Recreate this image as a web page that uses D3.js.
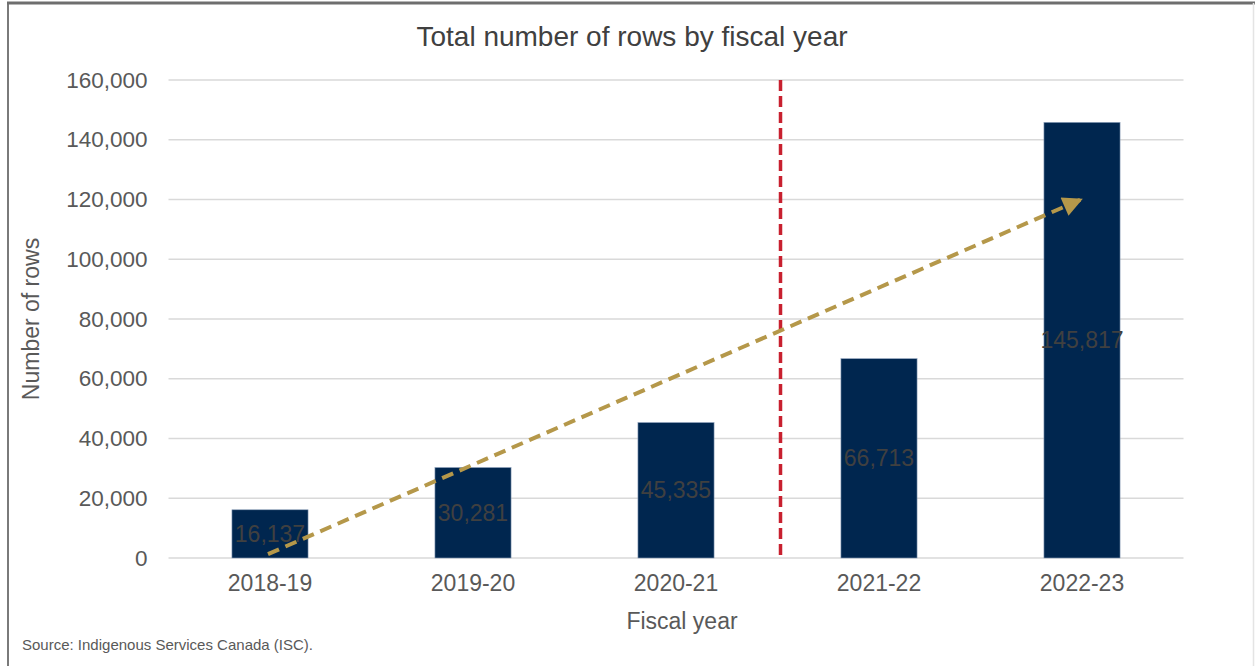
<!DOCTYPE html>
<html>
<head>
<meta charset="utf-8">
<script src="https://cdn.jsdelivr.net/npm/d3@7"></script>
<style>
  html, body { margin: 0; padding: 0; background: #fff; }
  svg { display: block; font-family: "Liberation Sans", Arial, sans-serif; }
</style>
</head>
<body>
<svg id="chart" width="1255" height="666"></svg>
<script>
// ---- data ----
const categories = ["2018-19", "2019-20", "2020-21", "2021-22", "2022-23"];
const values = [16137, 30281, 45335, 66713, 145817];
const valueLabels = ["16,137", "30,281", "45,335", "66,713", "145,817"];
const yTicks = [0, 20000, 40000, 60000, 80000, 100000, 120000, 140000, 160000];
const trendStart = { category: "2018-19", value: 1300 };
const trendEnd = { category: "2022-23", value: 120000 };
const dividerAfter = "2020-21";
const titleText = "Total number of rows by fiscal year";
const xTitle = "Fiscal year";
const yTitle = "Number of rows";
const sourceText = "Source: Indigenous Services Canada (ISC).";

// ---- layout ----
const svg = d3.select("#chart");
const plot = { left: 168.5, right: 1183.5, top: 80, bottom: 558 };

const x = d3.scaleBand().domain(categories).range([plot.left, plot.right])
  .paddingInner(0.625).paddingOuter(0.3125);
const y = d3.scaleLinear().domain([0, 160000]).range([plot.bottom, plot.top]);
const fmt = d3.format(",");

// frame
svg.append("line").attr("x1", 8).attr("x2", 8).attr("y1", 2).attr("y2", 666)
  .attr("stroke", "#7a7a7a").attr("stroke-width", 2);
svg.append("line").attr("x1", 7).attr("x2", 1255).attr("y1", 3).attr("y2", 3)
  .attr("stroke", "#6e6e6e").attr("stroke-width", 3);
svg.append("line").attr("x1", 1253.5).attr("x2", 1253.5).attr("y1", 3).attr("y2", 666)
  .attr("stroke", "#e4e4e4").attr("stroke-width", 1.5);

// title
svg.append("text").attr("x", 632).attr("y", 46).attr("text-anchor", "middle")
  .attr("font-size", 28).attr("fill", "#404040").text(titleText);

// gridlines + y axis
const yAxis = d3.axisLeft(y).tickValues(yTicks).tickFormat(fmt).tickSize(0).tickPadding(21);
const yg = svg.append("g").attr("transform", `translate(${plot.left},0)`).call(yAxis);
yg.select(".domain").remove();
yg.selectAll("text").attr("font-size", 22.5).attr("fill", "#595959")
  .attr("font-family", "Liberation Sans, Arial, sans-serif");

svg.append("g").selectAll("line").data(yTicks).join("line")
  .attr("x1", plot.left).attr("x2", plot.right)
  .attr("y1", d => y(d)).attr("y2", d => y(d))
  .attr("stroke", "#d9d9d9").attr("stroke-width", 1.5);

// bars
svg.append("g").selectAll("rect").data(categories).join("rect")
  .attr("x", d => x(d)).attr("width", x.bandwidth())
  .attr("y", (d, i) => y(values[i])).attr("height", (d, i) => y(0) - y(values[i]))
  .attr("fill", "#00264f").attr("stroke", "#8da0bb").attr("stroke-width", 0.6);

// x axis
const xAxis = d3.axisBottom(x).tickSize(0).tickPadding(17);
const xg = svg.append("g").attr("transform", `translate(0,${plot.bottom})`).call(xAxis);
xg.select(".domain").remove();
xg.selectAll("text").attr("font-size", 23).attr("fill", "#595959")
  .attr("font-family", "Liberation Sans, Arial, sans-serif");

// value labels
svg.append("g").selectAll("text").data(categories).join("text")
  .attr("x", d => x(d) + x.bandwidth() / 2)
  .attr("y", (d, i) => (y(values[i]) + y(0)) / 2)
  .attr("dy", "0.35em").attr("text-anchor", "middle")
  .attr("font-size", 23).attr("fill", "#404040")
  .text((d, i) => valueLabels[i]);

// divider
const divX = x(dividerAfter) + x.bandwidth() + x.step() * x.paddingInner() / 2 + 3;
svg.append("line").attr("x1", divX).attr("x2", divX)
  .attr("y1", y(160000)).attr("y2", y(0))
  .attr("stroke", "#c8202f").attr("stroke-width", 3.5).attr("stroke-dasharray", "11,5");

// trend arrow
const defs = svg.append("defs");
defs.append("marker").attr("id", "ah").attr("viewBox", "0 0 10 10")
  .attr("refX", 9).attr("refY", 5).attr("markerWidth", 6).attr("markerHeight", 5)
  .attr("markerUnits", "strokeWidth").attr("orient", "auto")
  .append("path").attr("d", "M0,0 L10,5 L0,10 z").attr("fill", "#b5984a");

const x1 = x(trendStart.category) + x.bandwidth() / 2 - 2;
const x2 = x(trendEnd.category) + x.bandwidth() / 2 - 1;
svg.append("line")
  .attr("x1", x1).attr("y1", y(trendStart.value))
  .attr("x2", x2).attr("y2", y(trendEnd.value))
  .attr("stroke", "#b5984a").attr("stroke-width", 4)
  .attr("stroke-dasharray", "12,7").attr("marker-end", "url(#ah)");

// axis titles
svg.append("text").attr("transform", `translate(39,${(plot.top + plot.bottom) / 2}) rotate(-90)`)
  .attr("text-anchor", "middle").attr("font-size", 23).attr("fill", "#595959").text(yTitle);
svg.append("text").attr("x", 682).attr("y", 629).attr("text-anchor", "middle")
  .attr("font-size", 23).attr("fill", "#595959").text(xTitle);

// source
svg.append("text").attr("x", 22).attr("y", 650).attr("font-size", 15)
  .attr("fill", "#595959").text(sourceText);
</script>
</body>
</html>
